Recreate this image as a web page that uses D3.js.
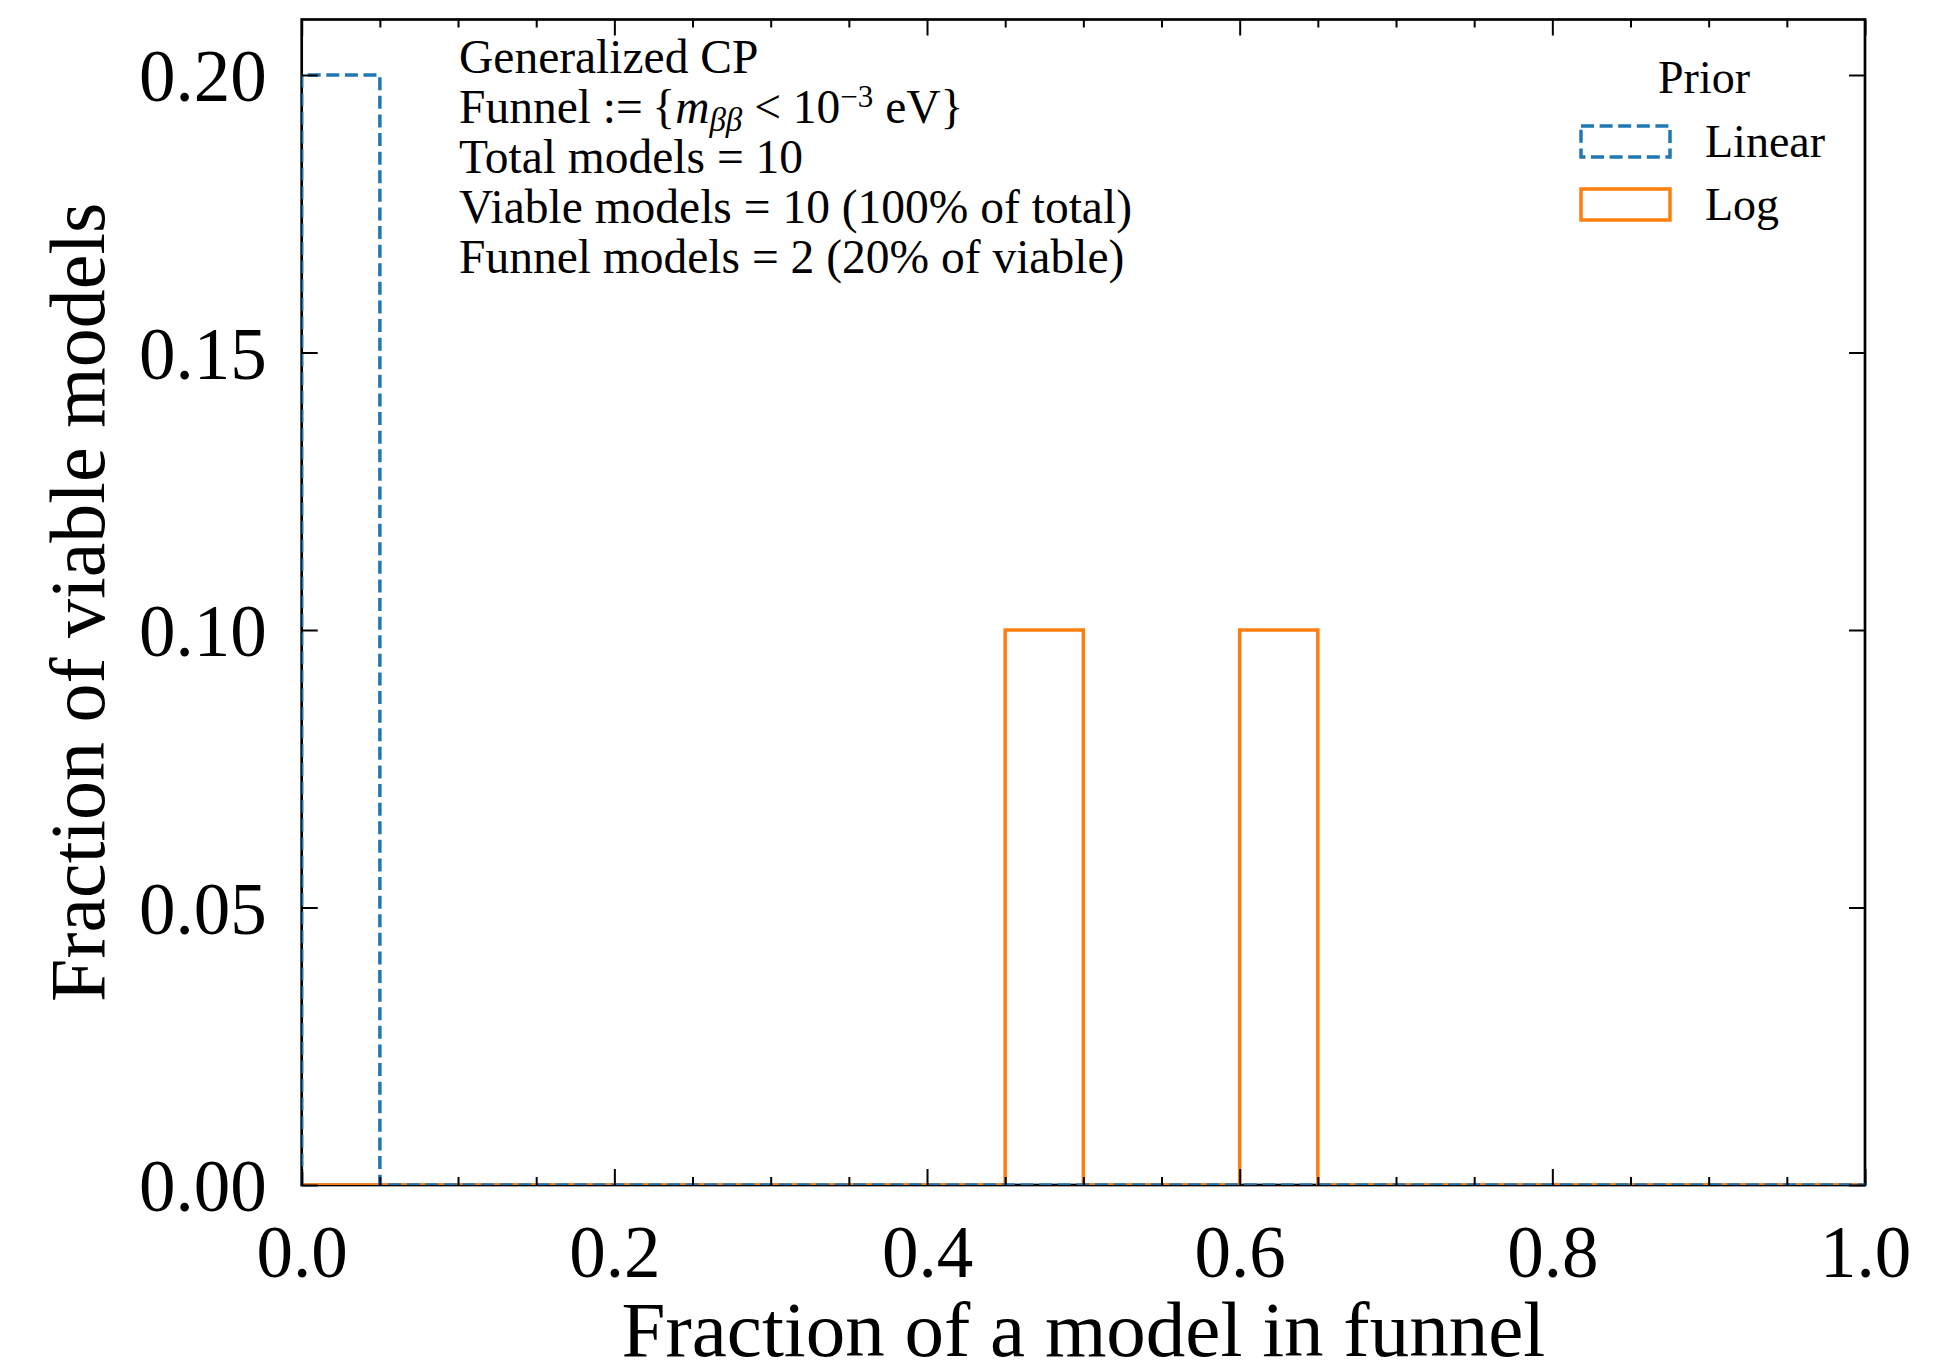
<!DOCTYPE html>
<html>
<head>
<meta charset="utf-8">
<script src="https://cdn.jsdelivr.net/npm/d3@7"></script>
<style>
  body { margin: 0; background: #fff; }
  text { font-family: "Liberation Serif", "Times New Roman", serif; fill: #000; }
</style>
</head>
<body>
<div id="chart"></div>
<script>
// histogram bins (fraction of a model in funnel)
const binEdges = [0, 0.05, 0.1, 0.15, 0.2, 0.25, 0.3, 0.35, 0.4, 0.45, 0.5,
                  0.55, 0.6, 0.65, 0.7, 0.75, 0.8, 0.85, 0.9, 0.95, 1.0];
// fraction of viable models per bin
const linearValues = [0.20, 0, 0, 0, 0, 0, 0, 0, 0, 0, 0, 0, 0, 0, 0, 0, 0, 0, 0, 0];
const logValues    = [0, 0, 0, 0, 0, 0, 0, 0, 0, 0.10, 0, 0, 0.10, 0, 0, 0, 0, 0, 0, 0];

const xTicks = [0, 0.2, 0.4, 0.6, 0.8, 1.0];
const xTickLabels = ['0.0', '0.2', '0.4', '0.6', '0.8', '1.0'];
const xMinorTicks = [0.05, 0.1, 0.15, 0.25, 0.3, 0.35, 0.45, 0.5, 0.55, 0.65, 0.7, 0.75, 0.85, 0.9, 0.95];
const yTicks = [0, 0.05, 0.10, 0.15, 0.20];
const yTickLabels = ['0.00', '0.05', '0.10', '0.15', '0.20'];

const seriesNames = ['Linear', 'Log'];
const seriesColors = ['#1f77b4', '#ff7f0e'];

const infoLines = [
    'Generalized CP',
    'FUNNEL',
    'Total models = 10',
    'Viable models = 10 (100% of total)',
    'Funnel models = 2 (20% of viable)'
];

const w = 1946,
    h = 1369;
const plotLeft = 301.7, plotRight = 1865, plotTop = 19.5, plotBottom = 1185;
const dash = '13,5.6';

const svg = d3.select('#chart')
    .append('svg')
    .attr('width', w)
    .attr('height', h);

const xScale = d3.scaleLinear().domain([0, 1]).range([plotLeft, plotRight]);
const yScale = d3.scaleLinear().domain([0, 0.21]).range([plotBottom, plotTop]);

// clip for the step outlines
svg.append('clipPath').attr('id', 'plotclip')
    .append('rect')
    .attr('x', plotLeft).attr('y', plotTop)
    .attr('width', plotRight - plotLeft).attr('height', plotBottom - plotTop);

// frame
svg.append('rect')
    .attr('x', plotLeft).attr('y', plotTop)
    .attr('width', plotRight - plotLeft).attr('height', plotBottom - plotTop)
    .attr('fill', 'none')
    .attr('stroke', '#000')
    .attr('stroke-width', 2.7);

// step points for histtype="step"
function stepPoints(values) {
    const pts = [[binEdges[0], 0]];
    values.forEach((v, i) => {
        pts.push([binEdges[i], v]);
        pts.push([binEdges[i + 1], v]);
    });
    pts.push([binEdges[binEdges.length - 1], 0]);
    return pts;
}

const line = d3.line()
    .x(d => xScale(d[0]))
    .y(d => yScale(d[1]));

const g = svg.append('g').attr('clip-path', 'url(#plotclip)');

g.append('path')
    .datum(stepPoints(logValues))
    .attr('d', line)
    .attr('fill', 'none')
    .attr('stroke', seriesColors[1])
    .attr('stroke-width', 3.5)
    .attr('stroke-linejoin', 'miter');

g.append('path')
    .datum(stepPoints(linearValues))
    .attr('d', line)
    .attr('fill', 'none')
    .attr('stroke', seriesColors[0])
    .attr('stroke-width', 3.5)
    .attr('stroke-dasharray', dash)
    .attr('stroke-linejoin', 'miter');

// axes, ticks pointing inward
function styleAxis(sel) {
    sel.select('.domain').remove();
    sel.selectAll('.tick line').attr('stroke', '#000').attr('stroke-width', 2);
}

svg.append('g')
    .attr('transform', `translate(0,${plotBottom})`)
    .call(d3.axisBottom(xScale).tickValues(xTicks)
        .tickFormat((d, i) => xTickLabels[i]).tickSizeInner(-16).tickSizeOuter(0).tickPadding(40))
    .call(styleAxis)
    .selectAll('text').style('font-size', '73px');

svg.append('g')
    .attr('transform', `translate(0,${plotBottom})`)
    .call(d3.axisBottom(xScale).tickValues(xMinorTicks).tickFormat('').tickSizeInner(-8).tickSizeOuter(0))
    .call(styleAxis);

svg.append('g')
    .attr('transform', `translate(0,${plotTop})`)
    .call(d3.axisTop(xScale).tickValues(xTicks).tickFormat('').tickSizeInner(-16).tickSizeOuter(0))
    .call(styleAxis);

svg.append('g')
    .attr('transform', `translate(0,${plotTop})`)
    .call(d3.axisTop(xScale).tickValues(xMinorTicks).tickFormat('').tickSizeInner(-8).tickSizeOuter(0))
    .call(styleAxis);

svg.append('g')
    .attr('transform', `translate(${plotLeft},0)`)
    .call(d3.axisLeft(yScale).tickValues(yTicks)
        .tickFormat((d, i) => yTickLabels[i]).tickSizeInner(-16).tickSizeOuter(0).tickPadding(35))
    .call(styleAxis)
    .selectAll('text').style('font-size', '73px').attr('dy', '0.35em');

svg.append('g')
    .attr('transform', `translate(${plotRight},0)`)
    .call(d3.axisRight(yScale).tickValues(yTicks).tickFormat('').tickSizeInner(-16).tickSizeOuter(0))
    .call(styleAxis);

// axis labels
svg.append('text')
    .attr('x', (plotLeft + plotRight) / 2)
    .attr('y', 1356)
    .attr('text-anchor', 'middle')
    .style('font-size', '79px')
    .text('Fraction of a model in funnel');

svg.append('text')
    .attr('transform', `translate(104,${(plotTop + plotBottom) / 2}) rotate(-90)`)
    .attr('text-anchor', 'middle')
    .style('font-size', '78px')
    .text('Fraction of viable models');

// info text block
const info = svg.append('text')
    .attr('x', 459)
    .attr('y', 73)
    .style('font-size', '47.5px');

infoLines.forEach((t, i) => {
    if (t === 'FUNNEL') {
        const ln = info.append('tspan').attr('x', 459).attr('dy', 50);
        ln.append('tspan').text('Funnel :=\u2009{');
        ln.append('tspan').attr('font-style', 'italic').text('m');
        ln.append('tspan').attr('font-style', 'italic').attr('dy', 8)
            .style('font-size', '33px').text('ββ');
        ln.append('tspan').attr('dy', -8).text(' < 10');
        ln.append('tspan').attr('dy', -16).style('font-size', '31px').text('−3');
        ln.append('tspan').attr('dy', 16).text(' eV}');
    } else {
        info.append('tspan').attr('x', 459).attr('dy', i === 0 ? 0 : 50).text(t);
    }
});

// legend
const legend = svg.append('g');
legend.append('text')
    .attr('x', 1704).attr('y', 93)
    .attr('text-anchor', 'middle')
    .style('font-size', '46px')
    .text('Prior');

const legendRows = legend.selectAll('g.row')
    .data(seriesNames)
    .enter().append('g')
    .attr('class', 'row')
    .attr('transform', (d, i) => `translate(1581,${126 + i * 63})`);

legendRows.append('rect')
    .attr('width', 89).attr('height', 31)
    .attr('fill', 'none')
    .attr('stroke', (d, i) => seriesColors[i])
    .attr('stroke-width', 3.5)
    .attr('stroke-dasharray', (d, i) => i === 0 ? dash : null);

legendRows.append('text')
    .attr('x', 124).attr('y', 31)
    .style('font-size', '46px')
    .text(d => d);
</script>
</body>
</html>
